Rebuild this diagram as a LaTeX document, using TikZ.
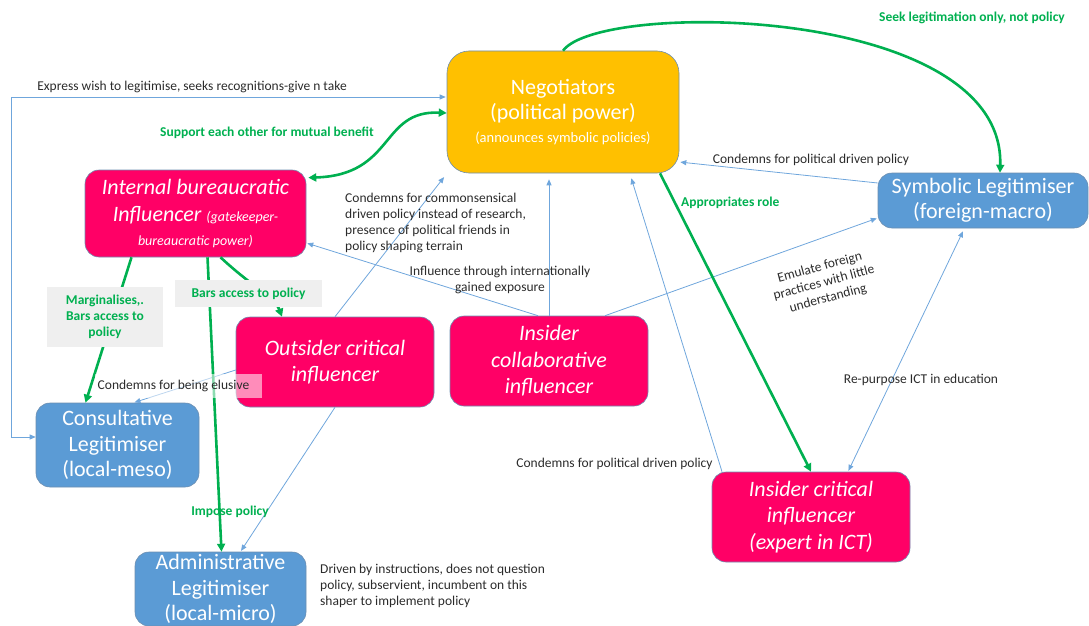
\documentclass[tikz,border=0pt]{standalone}
\usepackage{fontspec}
\setmainfont{Carlito}
\usetikzlibrary{arrows.meta}

\definecolor{negorange}{HTML}{FFC000}
\definecolor{inflpink}{HTML}{FF0066}
\definecolor{legblue}{HTML}{5B9BD5}
\definecolor{boxline}{HTML}{6C8EB0}
\definecolor{relblue}{HTML}{6FA6DC}
\definecolor{pushgreen}{HTML}{00B050}
\definecolor{notegray}{HTML}{2B2B2B}
\definecolor{tagfill}{HTML}{EFEFEF}

\tikzset{
  box/.style={rounded corners=14pt, draw=boxline, line width=0.6pt, text=white,
    align=center, inner sep=0pt, font=\fontsize{22}{25.5}\selectfont},
  negbox/.style={box, fill=negorange, rounded corners=22pt},
  pinkbox/.style={box, fill=inflpink, font=\itshape\fontsize{22}{26.5}\selectfont},
  bluebox/.style={box, fill=legblue},
  rel/.style={draw=relblue, line width=0.8pt, -{Triangle[length=6pt,width=5pt]}, shorten >=1pt},
  relboth/.style={rel, {Triangle[length=6pt,width=5pt]}-{Triangle[length=6pt,width=5pt]}},
  push/.style={draw=pushgreen, line width=2.6pt, -{Triangle[length=8pt,width=8pt]}},
  pushboth/.style={push, {Triangle[length=8pt,width=8pt]}-{Triangle[length=8pt,width=8pt]}},
  note/.style={text=notegray, font=\fontsize{13.5}{16}\selectfont, inner sep=1pt},
  gnote/.style={text=pushgreen, font=\bfseries\fontsize{13.5}{16}\selectfont, inner sep=1pt},
  gtag/.style={gnote, fill=tagfill, align=center, inner sep=0pt},
}

\begin{document}
\begin{tikzpicture}[x=1pt,y=-1pt]
\useasboundingbox (0,0) rectangle (1089,626);

% actors
\node[negbox, minimum width=232pt, minimum height=122pt] (neg) at (563,112)
  {Negotiators\\(political power)\\[-3pt]{\fontsize{14.5}{16}\selectfont(announces symbolic policies)}};
\node[pinkbox, minimum width=221pt, minimum height=87pt] (ibi) at (195.5,213.5)
  {Internal bureaucratic\\Influencer {\fontsize{14}{16}\selectfont(gatekeeper-}\\[-2pt]{\fontsize{14}{16}\selectfont bureaucratic power)}};
\node[bluebox, minimum width=210pt, minimum height=55pt] (sym) at (983,200.5)
  {Symbolic Legitimiser\\(foreign-macro)};
\node[pinkbox, minimum width=198pt, minimum height=90pt] (oci) at (335,362)
  {Outsider critical\\influencer};
\node[pinkbox, minimum width=198pt, minimum height=90pt] (ico) at (549,361)
  {Insider\\collaborative\\influencer};
\node[bluebox, minimum width=163pt, minimum height=84pt] (con) at (117.5,445)
  {Consultative\\Legitimiser\\(local-meso)};
\node[bluebox, minimum width=171pt, minimum height=74pt] (adm) at (220.5,589)
  {Administrative\\Legitimiser\\(local-micro)};
\node[pinkbox, minimum width=198pt, minimum height=90pt] (icr) at (811,517)
  {Insider critical\\influencer\\(expert in ICT)};

% blue relations
\draw[relboth] ([yshift=8pt]con.west) -- ++(-24,0) |- ([yshift=15pt]neg.west);
\draw[rel] ([yshift=17.5pt]sym.west) -- ([yshift=-50pt]neg.east);
\draw[rel] (ico.north) -- ([xshift=-14pt,yshift=-5pt]neg.south);
\draw[rel] ([xshift=-11pt]ico.north) -- ([yshift=-29.5pt]ibi.east);
\draw[rel] ([xshift=56pt]ico.north) -- ([yshift=-17.5pt]sym.west);
\draw[rel] (oci.north) -- ([xshift=-2pt,yshift=-3pt]neg.south west);
\draw[rel] ([xshift=-89pt]icr.north) -- ([xshift=68pt,yshift=-4pt]neg.south);
\draw[relboth] ([xshift=-20pt,yshift=-3pt]sym.south) -- ([xshift=37pt]icr.north);
\draw[rel] ([yshift=-8pt]oci.west) -- ([xshift=16pt]con.north);
\draw[rel] (oci.south) -- ([xshift=20pt]adm.north);

% green relations
\draw[push] (neg.north) .. controls (600,0) and (1005,5) .. ([xshift=17pt]sym.north);
\draw[pushboth] ([yshift=-1pt]neg.west) .. controls (380,110) and (395,175) .. ([xshift=2pt,yshift=-8pt]ibi.north east);
\draw[push] ([xshift=97pt]neg.south) -- (icr.north);
\draw[push] ([xshift=-64pt]ibi.south) -- ([xshift=-32pt]con.north);
\draw[push] ([xshift=12pt]ibi.south) -- ([xshift=1pt]adm.north);
\draw[push] ([xshift=25pt]ibi.south) .. controls (250,285) and (275,298) .. ([xshift=-53pt]oci.north);

% relation labels
\node[note] (l1) at (192,87) {Express wish to legitimise, seeks recognitions-give n take};
\node[gnote] (l2) at (267,133) {Support each other for mutual benefit};
\node[gnote] (l3) at (972,18) {Seek legitimation only, not policy};
\node[note] (l4) at (811,160) {Condemns for political driven policy};
\node[gnote, anchor=west] (l5) at (680,203) {Appropriates role};
\node[note, align=left, anchor=north west] (l6) at (344,192)
  {Condemns for commonsensical\\driven policy instead of research,\\presence of political friends in\\policy shaping terrain};
\node[note, align=center] (l7) at (500,280) {Influence through internationally\\gained exposure};
\node[note, align=center, rotate=15] (l8) at (824,283) {Emulate foreign\\practices with little\\understanding};
\node[note] (l9) at (921,380) {Re-purpose ICT in education};
\node[note] (l10) at (614.5,464) {Condemns for political driven policy};
\node[note, fill=white, fill opacity=0.55, text opacity=1, minimum width=167pt, minimum height=24pt, inner sep=0pt] (l11) at (178,386) {\hspace*{-9pt}Condemns for being elusive};
\node[gtag, minimum width=116pt, minimum height=60pt] (l12) at (105,317) {Marginalises,.\\Bars access to\\policy};
\node[gtag, minimum width=147pt, minimum height=27pt] (l13) at (248.5,293.5) {Bars access to policy};
\node[gnote] (l14) at (230,512) {Impose policy};
\node[note, align=left, anchor=north west] (l15) at (319,563)
  {Driven by instructions, does not question\\policy, subservient, incumbent on this\\shaper to implement policy};
\end{tikzpicture}
\end{document}
